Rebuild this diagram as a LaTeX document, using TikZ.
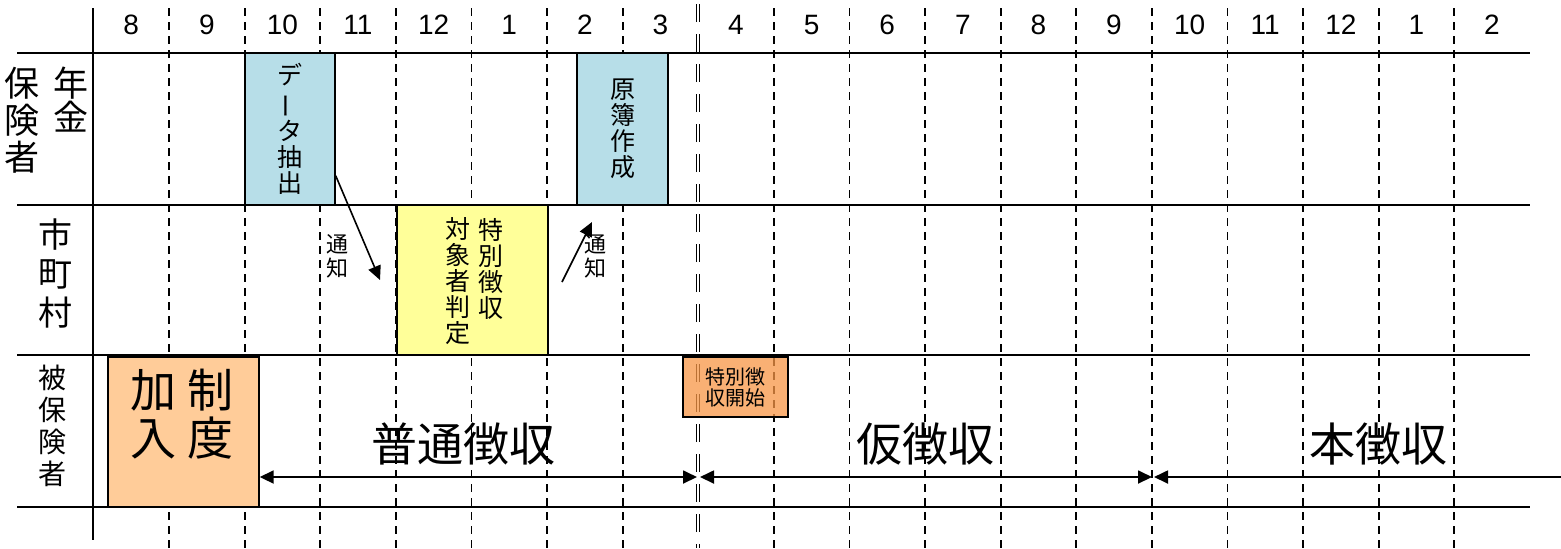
\documentclass[tikz,border=0pt]{standalone}
\usepackage{fontspec}
\setmainfont{Liberation Sans}
\newfontfamily\jp{Noto Sans CJK JP}
\usepackage{tikz}
\usetikzlibrary{arrows.meta,positioning,calc}
\tikzset{>={Triangle[length=7pt,width=6.5pt]}}
\definecolor{boxblue}{RGB}{183,222,232}
\definecolor{boxyellow}{RGB}{255,255,153}
\definecolor{boxpeach}{RGB}{255,204,153}
\definecolor{boxorange}{RGB}{247,150,70}
\tikzset{
  gridline/.style={line width=0.9pt},
  monthsep/.style={line width=0.9pt, dash pattern=on 4pt off 3pt},
  switchline/.style={line width=0.5pt, dash pattern=on 9pt off 6pt},
  taskbox/.style={draw, line width=0.7pt, inner sep=0pt, align=center},
  vtext/.style={align=center, inner sep=0pt},
  jplabel/.style={font=\jp\fontsize{17.5}{18.5}\selectfont},
  jptask/.style={font=\jp\fontsize{12.5}{13}\selectfont},
  jpnote/.style={font=\jp\fontsize{11}{12}\selectfont},
  jpbig/.style={font=\jp\fontsize{23}{24}\selectfont},
  tsuchi/.style={->, line width=0.8pt},
  period/.style={line width=0.9pt}
}
\newcommand{\tate}{\rotatebox[origin=c]{90}{ー}}

\begin{document}
\begin{tikzpicture}[x=0.5pt,y=-0.5pt]
  \useasboundingbox (0,0) rectangle (1561,548);
  % --- Definitions ---
  \def\colw{75.6} % width of one month column (px)

  % --- 1. Month grid ---
  \foreach \k in {0,...,6,8,9,...,17}
    \draw[monthsep] ({169+\k*\colw},8) -- ({169+\k*\colw},548);
  % change of fiscal year (double line)
  \draw[switchline] (696.5,4) -- (696.5,548);
  \draw[switchline] (699.5,4) -- (699.5,548);
  \draw[gridline] (93,8) -- (93,540);
  \foreach \y in {53,205,355,507}
    \draw[gridline] (17,\y) -- (1530,\y);

  % month numbers
  \foreach \m [count=\i from 0] in {8,9,10,11,12,1,2,3,4,5,6,7,8,9,10,11,12,1,2}
    \node[font=\fontsize{14}{16}\selectfont] (m\i) at ({131.2+\i*\colw},25) {\m};

  % --- 2. Row labels ---
  \node[vtext, jplabel, font=\jp\fontsize{17.5}{17}\selectfont] (nenkinA) at (71,100) {年\\金};
  \node[vtext, jplabel] (nenkinB) at (22,120) {保\\険\\者};
  \node[vtext, jplabel, font=\jp\fontsize{17}{19.5}\selectfont] (shichoson) at (56,273) {市\\町\\村};
  \node[vtext, font=\jp\fontsize{14}{16}\selectfont] (hihoken) at (53,426) {被\\保\\険\\者};

  % --- 3. Tasks ---
  \node[taskbox, jptask, fill=boxblue, minimum width=45pt, minimum height=76pt]
    (dataBox) at (290,129) {デ\\\tate\\タ\\抽\\出};
  \node[taskbox, jptask, fill=boxblue, minimum width=45.5pt, minimum height=76pt]
    (genboBox) at (622.5,129) {原\\簿\\作\\成};
  \node[taskbox, fill=boxyellow, minimum width=75.5pt, minimum height=75pt]
    (hanteiBox) at (472.5,280) {};
  \node[vtext, jptask] (hanteiR) at (491,269) {特\\別\\徴\\収};
  \node[vtext, jptask] (hanteiL) at (458,281) {対\\象\\者\\判\\定};
  \node[taskbox, fill=boxpeach, minimum width=75.5pt, minimum height=75pt]
    (kanyuBox) at (183.5,432) {};
  \node[vtext, jpbig] (kanyuL) at (153,414) {加\\入};
  \node[vtext, jpbig] (kanyuR) at (210,414) {制\\度};
  \node[taskbox, fill=boxorange, fill opacity=0.75, text opacity=1,
        font=\jp\fontsize{10}{10.5}\selectfont, minimum width=52.5pt, minimum height=30pt]
    (kaishiBox) at (735.5,387) {特別徴\\収開始};

  % --- 4. Notices ---
  \coordinate (n1s) at ($(dataBox.south east)+(0,-30)$);
  \coordinate (n1e) at (380,280);
  \draw[tsuchi] (n1s) -- (n1e);
  \node[vtext, jpnote] (tsuchiA) at (337,256) {通\\知};
  \coordinate (n2s) at (562,282);
  \coordinate (n2e) at (592,222);
  \draw[tsuchi] (n2s) -- (n2e);
  \node[vtext, jpnote] (tsuchiB) at (595,256) {通\\知};

  % --- 5. Collection periods ---
  \coordinate (rowY) at (0,477);
  \coordinate (p1) at (697,477);
  \coordinate (p2) at (700,477);
  \coordinate (p3) at (1152,477);
  \coordinate (p4) at (1154,477);
  \coordinate (p5) at (1561,477);
  \draw[period, <->] (kanyuBox.east |- rowY) -- (p1);
  \draw[period, <->] (p2) -- (p3);
  \draw[period, <-] (p4) -- (p5);
  \node[jpbig] (futsu) at (463,444) {普通徴収};
  \node[jpbig] (kari) at (925,444) {仮徴収};
  \node[jpbig] (hon) at (1378,444) {本徴収};
\end{tikzpicture}
\end{document}
